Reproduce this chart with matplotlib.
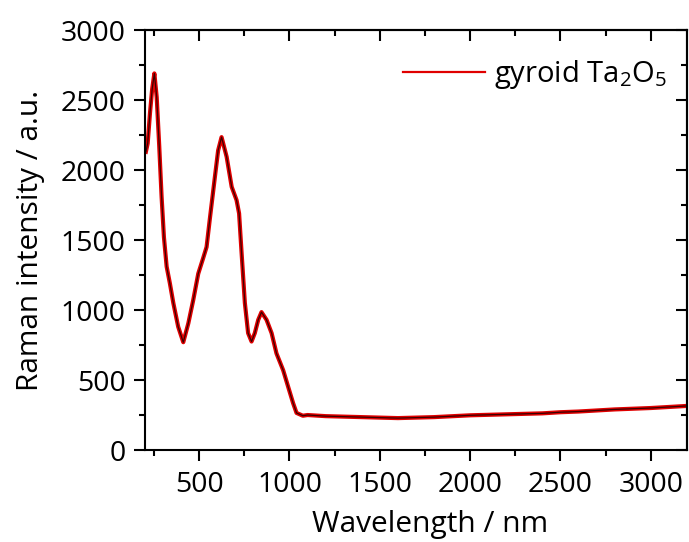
import numpy as np
import matplotlib.pyplot as plt
from matplotlib.ticker import MultipleLocator, NullFormatter

# Raman spectrum of gyroid Ta2O5
wavelength = [205, 215, 228, 240, 252, 265, 279, 292, 305, 320, 338, 357, 384,
              412, 440, 467, 495, 522, 541, 559, 587, 605, 624, 652, 680, 707,
              721, 735, 753, 771, 790, 808, 827, 845, 873, 901, 928, 965, 993,
              1020, 1039, 1074, 1100, 1200, 1400, 1600, 1800, 2000, 2200, 2400,
              2500, 2600, 2800, 3000, 3200]
intensity = [2130, 2190, 2410, 2580, 2690, 2520, 2170, 1810, 1520, 1310, 1190,
             1050, 880, 770, 905, 1070, 1260, 1370, 1450, 1650, 1950, 2140, 2235,
             2095, 1880, 1785, 1690, 1405, 1050, 835, 775, 835, 930, 985, 930,
             835, 690, 570, 450, 335, 265, 245, 250, 242, 235, 228, 235, 248,
             255, 262, 270, 275, 290, 300, 315]

plt.rcParams['font.family'] = ['Open Sans', 'DejaVu Sans']
plt.rcParams['mathtext.fontset'] = 'custom'
plt.rcParams['mathtext.rm'] = 'Open Sans'
plt.rcParams['mathtext.it'] = 'Open Sans:italic'
plt.rcParams['mathtext.bf'] = 'Open Sans:bold'

fig = plt.figure(figsize=(6.89, 5.42), dpi=100)
ax = fig.add_axes([0.2104, 0.1697, 0.7866, 0.7749])

ax.plot(wavelength, intensity, color='#e00000', lw=3.0, label='gyroid Ta$\\mathregular{_2}$O$\\mathregular{_5}$')
ax.plot(wavelength, intensity, color='#3a0000', lw=0.9)

ax.set_xlim(200, 3200)
ax.set_ylim(0, 3000)
ax.xaxis.set_major_locator(MultipleLocator(500))
ax.xaxis.set_minor_locator(MultipleLocator(250))
ax.yaxis.set_major_locator(MultipleLocator(500))
ax.yaxis.set_minor_locator(MultipleLocator(250))
ax.tick_params(which='both', direction='out', width=1.5, labelsize=20.5)
ax.tick_params(which='major', length=8)
ax.tick_params(which='minor', length=4.5)
ax.tick_params(axis='x', pad=7)
ax.tick_params(axis='y', pad=6)
for s in ax.spines.values():
    s.set_linewidth(1.5)

# mirrored ticks pointing inward on top and right
top = ax.secondary_xaxis('top')
right = ax.secondary_yaxis('right')
for sec, axis in ((top, top.xaxis), (right, right.yaxis)):
    axis.set_major_locator(MultipleLocator(500))
    axis.set_minor_locator(MultipleLocator(250))
    axis.set_major_formatter(NullFormatter())
    sec.tick_params(which='both', direction='in', width=1.5)
    sec.tick_params(which='major', length=8)
    sec.tick_params(which='minor', length=4.5)
    for s in sec.spines.values():
        s.set_linewidth(1.5)

ax.set_xlabel('Wavelength / nm', fontsize=21.5)
ax.xaxis.set_label_coords(0.526, -0.143)
ax.set_ylabel('Raman intensity / a.u.', fontsize=21.5, labelpad=11)

leg = ax.legend(loc='upper right', bbox_to_anchor=(1.0, 0.981), frameon=False,
                fontsize=21, handlelength=2.8, handletextpad=0.3,
                borderaxespad=0.3)
for h in leg.get_lines():
    h.set_linewidth(1.6)

fig.savefig('out.png', dpi=100)
